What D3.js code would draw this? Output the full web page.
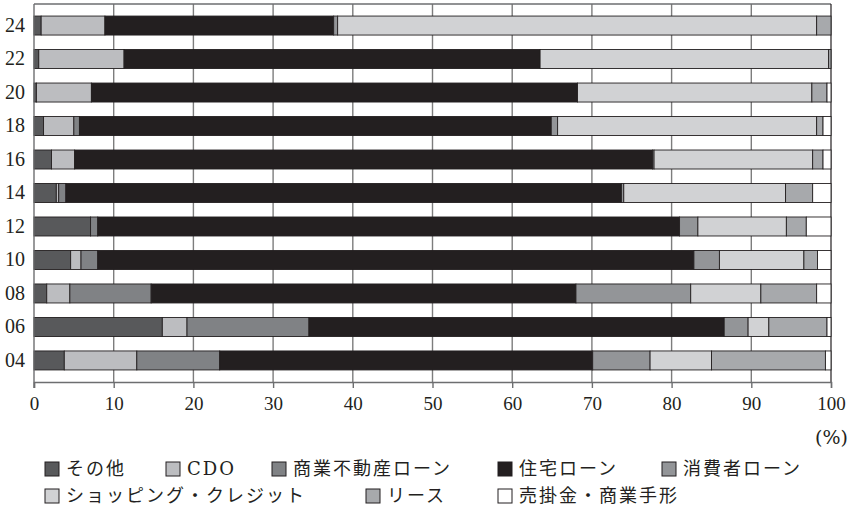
<!DOCTYPE html>
<html>
<head>
<meta charset="utf-8">
<script src="https://cdn.jsdelivr.net/npm/d3@7"></script>
<style>
  body { margin: 0; background: #fff; }
</style>
</head>
<body>
<div id="chart"></div>
<script>
// years, bottom to top
const years = ["04", "06", "08", "10", "12", "14", "16", "18", "20", "22", "24"];
const categories = ["その他", "CDO", "商業不動産ローン", "住宅ローン", "消費者ローン",
                    "ショッピング・クレジット", "リース", "売掛金・商業手形"];
const colors = ["#58595b", "#bcbdc0", "#808285", "#231f20", "#939598", "#d1d2d4", "#a7a9ac", "#ffffff"];

// shares (%) per year, same order as years
const sonota   = [3.8, 16.1, 1.6, 4.6, 7.1, 2.8, 2.2, 1.2, 0.3, 0.6, 0.9];
const cdo      = [9.1, 3.1, 2.9, 1.3, 0, 0.3, 2.9, 3.8, 6.9, 10.7, 8.0];
const shogyo   = [10.4, 15.3, 10.2, 2.1, 0.9, 0.9, 0, 0.7, 0, 0, 0];
const jutaku   = [46.8, 52.1, 53.3, 74.8, 73.0, 69.7, 72.5, 59.2, 61.0, 52.2, 28.7];
const shohisha = [7.2, 3.0, 14.4, 3.2, 2.3, 0.3, 0.2, 0.8, 0, 0, 0.5];
const shopping = [7.7, 2.6, 8.8, 10.6, 11.1, 20.3, 19.9, 32.5, 29.4, 36.2, 60.1];
const lease    = [14.3, 7.3, 7.0, 1.7, 2.5, 3.4, 1.3, 0.8, 1.9, 0.3, 1.8];
const urikake  = [0.7, 0.5, 1.8, 1.7, 3.1, 2.3, 1.0, 1.0, 0.5, 0, 0];
const xTicks = [0, 10, 20, 30, 40, 50, 60, 70, 80, 90, 100];

const series = [sonota, cdo, shogyo, jutaku, shohisha, shopping, lease, urikake];

const serif = "'DejaVu Serif', 'Noto Sans CJK JP'";
const width = 856, height = 508;
const margin = {top: 4, left: 34, right: 25, bottom: 126};
const plotW = width - margin.left - margin.right;
const plotH = height - margin.top - margin.bottom;

// build table for the stack
const table = years.map((y, i) => {
    const row = {year: y};
    categories.forEach((c, k) => { row[c] = series[k][i]; });
    return row;
});

const svg = d3.select("#chart").append("svg")
    .attr("width", width)
    .attr("height", height);

const g = svg.append("g")
    .attr("transform", `translate(${margin.left}, ${margin.top})`);

const x = d3.scaleLinear().domain([0, 100]).range([0, plotW]);
const y = d3.scaleBand()
    .domain(years.slice().reverse())
    .range([0, plotH])
    .paddingInner(0.433)
    .paddingOuter(0.36);

// vertical grid
g.selectAll(".grid")
    .data(xTicks.slice(1, -1))
    .enter()
    .append("line")
    .attr("class", "grid")
    .attr("x1", d => x(d)).attr("x2", d => x(d))
    .attr("y1", 0).attr("y2", plotH)
    .style("stroke", "#7d7d7d")
    .style("stroke-width", 1.4);

// frame: top and right
g.append("line")
    .attr("x1", 0).attr("x2", plotW).attr("y1", 0).attr("y2", 0)
    .style("stroke", "#6d6e70").style("stroke-width", 1.4);
g.append("line")
    .attr("x1", plotW).attr("x2", plotW).attr("y1", 0).attr("y2", plotH)
    .style("stroke", "#231f20").style("stroke-width", 1.2);

const stacked = d3.stack().keys(categories)(table);

g.selectAll(".layer")
    .data(stacked)
    .enter()
    .append("g")
    .attr("class", "layer")
    .style("fill", (d, i) => colors[i])
    .selectAll("rect")
    .data(d => d)
    .enter()
    .append("rect")
    .attr("x", d => x(d[0]))
    .attr("y", d => y(d.data.year))
    .attr("width", d => x(d[1]) - x(d[0]))
    .attr("height", y.bandwidth())
    .style("stroke", "#231f20")
    .style("stroke-width", 0.9);

// x axis
const xAxis = g.append("g")
    .attr("transform", `translate(0, ${plotH})`)
    .call(d3.axisBottom(x).tickValues(xTicks).tickSize(6).tickPadding(9));
xAxis.select(".domain").style("stroke", "#6d6e70").style("stroke-width", 1.4);
xAxis.selectAll(".tick line").style("stroke", "#6d6e70").style("stroke-width", 1.4);
xAxis.selectAll("text")
    .style("font-family", "'Liberation Serif'")
    .style("fill", "#231f20")
    .style("font-size", "19px");

// y axis
const yAxis = g.append("g")
    .call(d3.axisLeft(y).tickSize(0).tickPadding(9));
yAxis.select(".domain").remove();
yAxis.selectAll("text")
    .style("font-family", "'Liberation Serif'")
    .style("fill", "#231f20")
    .style("font-size", "20px");
g.append("line")
    .attr("x1", 0).attr("x2", 0).attr("y1", 0).attr("y2", plotH + 6)
    .style("stroke", "#6d6e70").style("stroke-width", 1.4);

// unit label
svg.append("text")
    .attr("x", 848)
    .attr("y", 444)
    .attr("text-anchor", "end")
    .style("font-family", serif)
    .style("fill", "#231f20")
    .style("font-size", "19px")
    .text("(%)");

// legend
const legendPos = [
    [45, 469], [166, 469], [272, 469], [498, 469], [662, 469],
    [45, 496], [366, 496], [498, 496]
];
const legend = svg.selectAll(".legend")
    .data(categories)
    .enter()
    .append("g")
    .attr("class", "legend")
    .attr("transform", (d, i) => `translate(${legendPos[i][0]}, ${legendPos[i][1]})`);

legend.append("rect")
    .attr("x", 0).attr("y", -7)
    .attr("width", 14).attr("height", 14)
    .style("fill", (d, i) => colors[i])
    .style("stroke", "#231f20")
    .style("stroke-width", 1);

legend.append("text")
    .attr("x", 21)
    .attr("y", 0)
    .attr("dy", "0.36em")
    .style("font-family", serif)
    .style("fill", "#231f20")
    .style("font-size", "18px")
    .style("letter-spacing", "2px")
    .text(d => d);
</script>
</body>
</html>
